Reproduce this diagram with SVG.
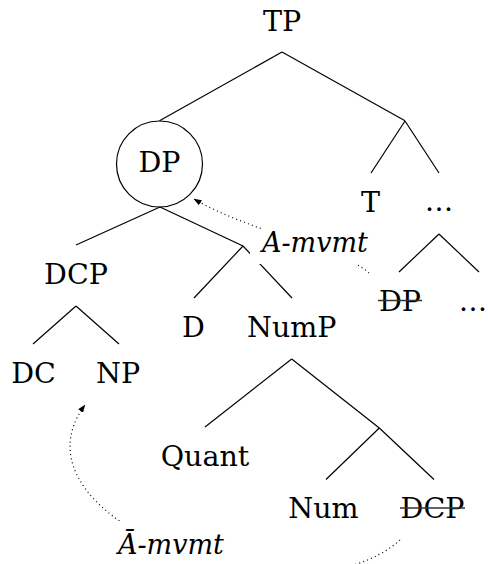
<svg xmlns="http://www.w3.org/2000/svg" width="488" height="564" viewBox="0 0 488 564">
<style>
  .lbl { font-family: "DejaVu Serif", "Liberation Serif", serif; font-size: 28.5px; fill: #000; text-anchor: middle; }
  .mv { font-family: "DejaVu Serif", "Liberation Serif", serif; font-size: 27px; font-style: italic; fill: #000; }
  .edge { stroke: #000; stroke-width: 1.2; fill: none; }
  .strike { stroke: #333; stroke-width: 1.3; }
  .dot { stroke: #000; stroke-width: 1.2; fill: none; stroke-dasharray: 1 3.2; }
  .bg { fill: #fff; }
</style>
<defs>
  <marker id="ah" viewBox="0 0 8 6" refX="7.5" refY="3" markerWidth="8" markerHeight="6" markerUnits="userSpaceOnUse" orient="auto">
    <path d="M0,0 L8,3 L0,6 z" fill="#000"/>
  </marker>
</defs>
<g id="edges">
  <line class="edge" x1="282" y1="52" x2="159.5" y2="120.7"/>
  <line class="edge" x1="282" y1="52" x2="405" y2="120.7"/>
  <line class="edge" x1="160" y1="207" x2="76" y2="245"/>
  <line class="edge" x1="160" y1="207" x2="243" y2="246"/>
  <line class="edge" x1="405" y1="121" x2="371" y2="173"/>
  <line class="edge" x1="405" y1="121" x2="439" y2="173"/>
  <line class="edge" x1="439" y1="234" x2="399" y2="272"/>
  <line class="edge" x1="439" y1="234" x2="479" y2="272"/>
  <line class="edge" x1="76" y1="306" x2="33" y2="344"/>
  <line class="edge" x1="76" y1="306" x2="119" y2="344"/>
  <line class="edge" x1="243" y1="246" x2="194" y2="298"/>
  <line class="edge" x1="243" y1="246" x2="292" y2="298"/>
  <line class="edge" x1="291.7" y1="359" x2="205" y2="427"/>
  <line class="edge" x1="291.7" y1="359" x2="379.3" y2="428"/>
  <line class="edge" x1="379.3" y1="428" x2="326" y2="479.5"/>
  <line class="edge" x1="379.3" y1="428" x2="434" y2="479.5"/>
</g>
<g id="movements">
  <path class="dot" d="M369,273 C345,250 250,232 194,199" marker-end="url(#ah)"/>
  <path class="dot" d="M400,540 C300,630 0,520 85,405" marker-end="url(#ah)"/>
</g>
<g id="n-TP"><text class="lbl" x="282" y="30.5">TP</text></g>
<g id="n-DP">
  <circle cx="159.5" cy="164" r="43" fill="none" stroke="#000" stroke-width="1.2"/>
  <text class="lbl" x="159.5" y="172">DP</text>
</g>
<g id="n-T"><text class="lbl" x="370.5" y="211.5">T</text></g>
<g id="n-dots1"><text class="lbl" x="439" y="211">…</text></g>
<g id="n-DCP"><text class="lbl" x="76" y="284">DCP</text></g>
<g id="n-D"><text class="lbl" x="193.5" y="336.5">D</text></g>
<g id="n-NumP"><text class="lbl" x="291.7" y="336.5">NumP</text></g>
<g id="n-DPcopy">
  <text class="lbl" x="400" y="310.5">DP</text>
  <line class="strike" x1="378" y1="300.5" x2="422" y2="300.5"/>
</g>
<g id="n-dots2"><text class="lbl" x="473" y="310.5">…</text></g>
<g id="n-DC"><text class="lbl" x="33.5" y="382.5">DC</text></g>
<g id="n-NP"><text class="lbl" x="118" y="382.5">NP</text></g>
<g id="n-Quant"><text class="lbl" x="205" y="466">Quant</text></g>
<g id="n-Num"><text class="lbl" x="323.5" y="518">Num</text></g>
<g id="n-DCPcopy">
  <text class="lbl" x="432.5" y="518">DCP</text>
  <line class="strike" x1="400" y1="508" x2="465" y2="508"/>
</g>
<g id="l-Amvmt">
  <rect class="bg" x="250" y="229" width="120" height="35"/>
  <text class="mv" x="262" y="252">A-mvmt</text>
</g>
<g id="l-Abarmvmt">
  <rect class="bg" x="112" y="521" width="116" height="43"/>
  <text class="mv" x="118" y="554">Ā-mvmt</text>
</g>
</svg>
